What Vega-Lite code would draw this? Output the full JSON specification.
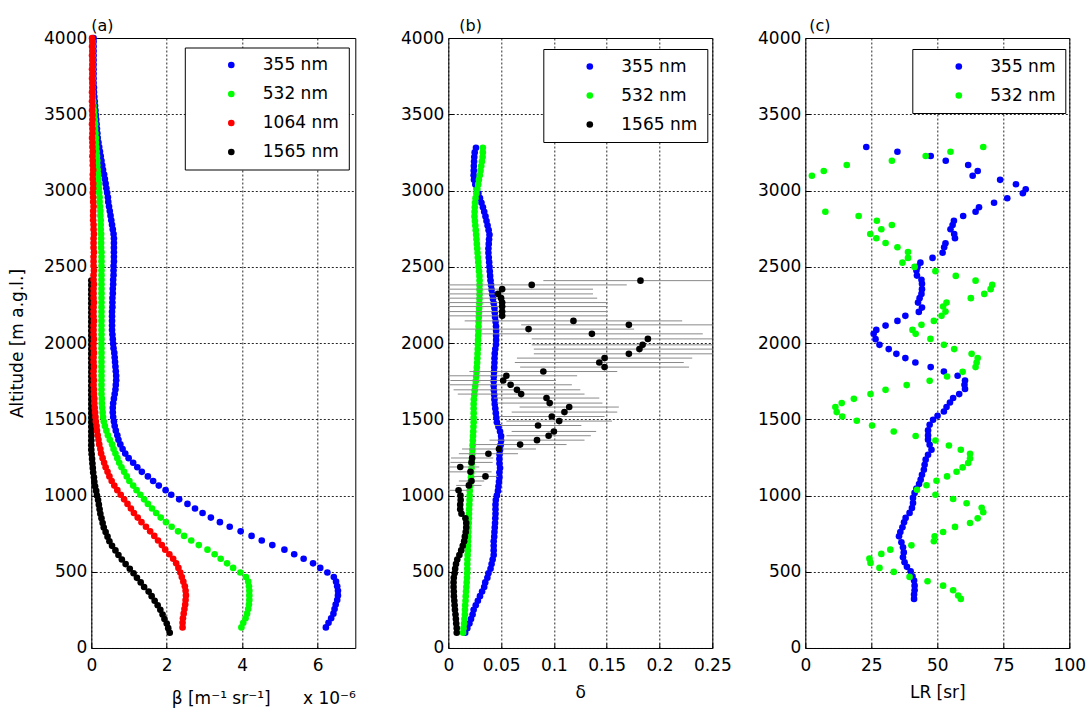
{
"$schema": "https://vega.github.io/schema/vega-lite/v6.json",
"background": "#ffffff",
"padding": {"left": 7.3, "top": 17, "right": 5, "bottom": 5},
"bounds": "flush",
"spacing": 93,
"resolve": {"scale": {"color": "independent", "x": "independent", "y": "independent"}, "legend": {"color": "independent"}, "axis": {"x": "independent", "y": "independent"}},
"config": {
 "font": "DejaVu Sans",
 "view": {"stroke": "#000000", "strokeWidth": 1},
 "axis": {"domain": false, "grid": true, "gridColor": "#000000", "gridDash": [2, 2], "gridOpacity": 0.85, "gridWidth": 1, "ticks": true, "tickSize": -5, "tickColor": "#000000", "labelFont": "DejaVu Sans", "labelFontSize": 17, "labelColor": "#000000", "labelFlush": false, "labelOverlap": false, "titleFont": "DejaVu Sans", "titleFontSize": 17, "titleFontWeight": "normal", "titleColor": "#000000"},
 "axisX": {"labelPadding": 15, "titlePadding": 11},
 "axisY": {"labelPadding": 9.5, "titlePadding": 17},
 "title": {"font": "DejaVu Sans", "fontSize": 16, "fontWeight": "normal", "color": "#000000", "anchor": "start", "frame": "group", "offset": -4.5},
 "legend": {"strokeColor": "#000000", "fillColor": "#ffffff", "padding": 9, "symbolOffset": 29, "labelOffset": 23, "rowPadding": 11, "symbolSize": 44, "symbolType": "circle", "symbolStrokeWidth": 0, "labelFont": "DejaVu Sans", "labelFontSize": 17, "labelColor": "#000000"},
 "point": {"filled": true, "size": 44, "opacity": 1}
},
"datasets": {
"a355": [{"h":135,"v":6.22},{"h":165,"v":6.29},{"h":195,"v":6.36},{"h":225,"v":6.42},{"h":255,"v":6.45},{"h":285,"v":6.48},{"h":315,"v":6.52},{"h":345,"v":6.54},{"h":375,"v":6.54},{"h":405,"v":6.52},{"h":435,"v":6.49},{"h":465,"v":6.43},{"h":495,"v":6.26},{"h":525,"v":6.07},{"h":555,"v":5.88},{"h":585,"v":5.63},{"h":615,"v":5.38},{"h":645,"v":5.12},{"h":675,"v":4.8},{"h":705,"v":4.52},{"h":735,"v":4.25},{"h":765,"v":3.96},{"h":795,"v":3.67},{"h":825,"v":3.41},{"h":855,"v":3.17},{"h":885,"v":2.95},{"h":915,"v":2.75},{"h":945,"v":2.55},{"h":975,"v":2.33},{"h":1005,"v":2.12},{"h":1035,"v":1.97},{"h":1065,"v":1.79},{"h":1095,"v":1.64},{"h":1125,"v":1.5},{"h":1155,"v":1.34},{"h":1185,"v":1.22},{"h":1215,"v":1.11},{"h":1245,"v":0.99},{"h":1275,"v":0.9},{"h":1305,"v":0.83},{"h":1335,"v":0.77},{"h":1365,"v":0.72},{"h":1395,"v":0.69},{"h":1425,"v":0.65},{"h":1455,"v":0.62},{"h":1485,"v":0.6},{"h":1515,"v":0.58},{"h":1545,"v":0.57},{"h":1575,"v":0.57},{"h":1605,"v":0.58},{"h":1635,"v":0.6},{"h":1665,"v":0.62},{"h":1695,"v":0.64},{"h":1725,"v":0.65},{"h":1755,"v":0.66},{"h":1785,"v":0.66},{"h":1815,"v":0.65},{"h":1845,"v":0.64},{"h":1875,"v":0.63},{"h":1905,"v":0.62},{"h":1935,"v":0.61},{"h":1965,"v":0.59},{"h":1995,"v":0.58},{"h":2025,"v":0.57},{"h":2055,"v":0.56},{"h":2085,"v":0.55},{"h":2115,"v":0.55},{"h":2145,"v":0.55},{"h":2175,"v":0.55},{"h":2205,"v":0.55},{"h":2235,"v":0.56},{"h":2265,"v":0.56},{"h":2295,"v":0.56},{"h":2325,"v":0.57},{"h":2355,"v":0.57},{"h":2385,"v":0.58},{"h":2415,"v":0.58},{"h":2445,"v":0.59},{"h":2475,"v":0.59},{"h":2505,"v":0.59},{"h":2535,"v":0.6},{"h":2565,"v":0.6},{"h":2595,"v":0.6},{"h":2625,"v":0.6},{"h":2655,"v":0.6},{"h":2685,"v":0.6},{"h":2715,"v":0.59},{"h":2745,"v":0.57},{"h":2775,"v":0.55},{"h":2805,"v":0.53},{"h":2835,"v":0.51},{"h":2865,"v":0.49},{"h":2895,"v":0.47},{"h":2925,"v":0.45},{"h":2955,"v":0.44},{"h":2985,"v":0.42},{"h":3015,"v":0.4},{"h":3045,"v":0.38},{"h":3075,"v":0.36},{"h":3105,"v":0.34},{"h":3135,"v":0.31},{"h":3165,"v":0.29},{"h":3195,"v":0.27},{"h":3225,"v":0.25},{"h":3255,"v":0.23},{"h":3285,"v":0.21},{"h":3315,"v":0.19},{"h":3345,"v":0.17},{"h":3375,"v":0.16},{"h":3405,"v":0.15},{"h":3435,"v":0.14},{"h":3465,"v":0.13},{"h":3495,"v":0.12},{"h":3525,"v":0.11},{"h":3555,"v":0.1},{"h":3585,"v":0.09},{"h":3615,"v":0.08},{"h":3645,"v":0.07},{"h":3675,"v":0.07},{"h":3705,"v":0.06},{"h":3735,"v":0.06},{"h":3765,"v":0.06},{"h":3795,"v":0.06},{"h":3825,"v":0.06},{"h":3855,"v":0.06},{"h":3885,"v":0.06},{"h":3915,"v":0.06},{"h":3945,"v":0.06},{"h":3975,"v":0.06},{"h":3999,"v":0.06}],
"a532": [{"h":135,"v":3.98},{"h":165,"v":4.03},{"h":195,"v":4.09},{"h":225,"v":4.13},{"h":255,"v":4.16},{"h":285,"v":4.18},{"h":315,"v":4.19},{"h":345,"v":4.19},{"h":375,"v":4.19},{"h":405,"v":4.18},{"h":435,"v":4.16},{"h":465,"v":4.1},{"h":495,"v":3.95},{"h":525,"v":3.76},{"h":555,"v":3.6},{"h":585,"v":3.43},{"h":615,"v":3.27},{"h":645,"v":3.08},{"h":675,"v":2.85},{"h":705,"v":2.65},{"h":735,"v":2.46},{"h":765,"v":2.3},{"h":795,"v":2.13},{"h":825,"v":1.98},{"h":855,"v":1.84},{"h":885,"v":1.72},{"h":915,"v":1.61},{"h":945,"v":1.5},{"h":975,"v":1.4},{"h":1005,"v":1.3},{"h":1035,"v":1.2},{"h":1065,"v":1.11},{"h":1095,"v":1.01},{"h":1125,"v":0.94},{"h":1155,"v":0.87},{"h":1185,"v":0.8},{"h":1215,"v":0.74},{"h":1245,"v":0.69},{"h":1275,"v":0.64},{"h":1305,"v":0.59},{"h":1335,"v":0.55},{"h":1365,"v":0.49},{"h":1395,"v":0.44},{"h":1425,"v":0.4},{"h":1455,"v":0.36},{"h":1485,"v":0.33},{"h":1515,"v":0.31},{"h":1545,"v":0.3},{"h":1575,"v":0.29},{"h":1605,"v":0.28},{"h":1635,"v":0.28},{"h":1665,"v":0.27},{"h":1695,"v":0.27},{"h":1725,"v":0.27},{"h":1755,"v":0.27},{"h":1785,"v":0.27},{"h":1815,"v":0.27},{"h":1845,"v":0.27},{"h":1875,"v":0.27},{"h":1905,"v":0.27},{"h":1935,"v":0.27},{"h":1965,"v":0.27},{"h":1995,"v":0.27},{"h":2025,"v":0.27},{"h":2055,"v":0.27},{"h":2085,"v":0.27},{"h":2115,"v":0.27},{"h":2145,"v":0.27},{"h":2175,"v":0.27},{"h":2205,"v":0.27},{"h":2235,"v":0.27},{"h":2265,"v":0.27},{"h":2295,"v":0.27},{"h":2325,"v":0.27},{"h":2355,"v":0.27},{"h":2385,"v":0.27},{"h":2415,"v":0.27},{"h":2445,"v":0.27},{"h":2475,"v":0.27},{"h":2505,"v":0.27},{"h":2535,"v":0.27},{"h":2565,"v":0.27},{"h":2595,"v":0.27},{"h":2625,"v":0.26},{"h":2655,"v":0.26},{"h":2685,"v":0.26},{"h":2715,"v":0.26},{"h":2745,"v":0.25},{"h":2775,"v":0.25},{"h":2805,"v":0.25},{"h":2835,"v":0.24},{"h":2865,"v":0.24},{"h":2895,"v":0.23},{"h":2925,"v":0.22},{"h":2955,"v":0.22},{"h":2985,"v":0.21},{"h":3015,"v":0.2},{"h":3045,"v":0.2},{"h":3075,"v":0.19},{"h":3105,"v":0.18},{"h":3135,"v":0.17},{"h":3165,"v":0.16},{"h":3195,"v":0.16},{"h":3225,"v":0.15},{"h":3255,"v":0.14},{"h":3285,"v":0.13},{"h":3315,"v":0.12},{"h":3345,"v":0.12},{"h":3375,"v":0.11},{"h":3405,"v":0.1},{"h":3435,"v":0.1},{"h":3465,"v":0.09},{"h":3495,"v":0.08},{"h":3525,"v":0.07},{"h":3555,"v":0.06},{"h":3585,"v":0.05},{"h":3615,"v":0.04},{"h":3645,"v":0.03},{"h":3675,"v":0.03},{"h":3705,"v":0.03},{"h":3735,"v":0.03},{"h":3765,"v":0.03},{"h":3795,"v":0.03},{"h":3825,"v":0.03},{"h":3855,"v":0.03},{"h":3885,"v":0.03},{"h":3915,"v":0.03},{"h":3945,"v":0.03},{"h":3975,"v":0.03}],
"a1064": [{"h":135,"v":2.42},{"h":165,"v":2.42},{"h":195,"v":2.43},{"h":225,"v":2.45},{"h":255,"v":2.47},{"h":285,"v":2.49},{"h":315,"v":2.5},{"h":345,"v":2.51},{"h":375,"v":2.5},{"h":405,"v":2.48},{"h":435,"v":2.44},{"h":465,"v":2.4},{"h":495,"v":2.36},{"h":525,"v":2.31},{"h":555,"v":2.25},{"h":585,"v":2.17},{"h":615,"v":2.07},{"h":645,"v":1.96},{"h":675,"v":1.87},{"h":705,"v":1.77},{"h":735,"v":1.67},{"h":765,"v":1.56},{"h":795,"v":1.45},{"h":825,"v":1.33},{"h":855,"v":1.23},{"h":885,"v":1.13},{"h":915,"v":1.05},{"h":945,"v":0.96},{"h":975,"v":0.87},{"h":1005,"v":0.78},{"h":1035,"v":0.69},{"h":1065,"v":0.61},{"h":1095,"v":0.54},{"h":1125,"v":0.48},{"h":1155,"v":0.43},{"h":1185,"v":0.38},{"h":1215,"v":0.34},{"h":1245,"v":0.3},{"h":1275,"v":0.26},{"h":1305,"v":0.24},{"h":1335,"v":0.21},{"h":1365,"v":0.19},{"h":1395,"v":0.17},{"h":1425,"v":0.15},{"h":1455,"v":0.14},{"h":1485,"v":0.12},{"h":1515,"v":0.11},{"h":1545,"v":0.1},{"h":1575,"v":0.09},{"h":1605,"v":0.08},{"h":1635,"v":0.08},{"h":1665,"v":0.07},{"h":1695,"v":0.07},{"h":1725,"v":0.06},{"h":1755,"v":0.07},{"h":1785,"v":0.06},{"h":1815,"v":0.06},{"h":1845,"v":0.07},{"h":1875,"v":0.06},{"h":1905,"v":0.06},{"h":1935,"v":0.07},{"h":1965,"v":0.06},{"h":1995,"v":0.06},{"h":2025,"v":0.07},{"h":2055,"v":0.06},{"h":2085,"v":0.06},{"h":2115,"v":0.06},{"h":2145,"v":0.07},{"h":2175,"v":0.06},{"h":2205,"v":0.06},{"h":2235,"v":0.06},{"h":2265,"v":0.07},{"h":2295,"v":0.06},{"h":2325,"v":0.06},{"h":2355,"v":0.06},{"h":2385,"v":0.07},{"h":2415,"v":0.06},{"h":2445,"v":0.06},{"h":2475,"v":0.07},{"h":2505,"v":0.06},{"h":2535,"v":0.06},{"h":2565,"v":0.06},{"h":2595,"v":0.07},{"h":2625,"v":0.06},{"h":2655,"v":0.06},{"h":2685,"v":0.06},{"h":2715,"v":0.07},{"h":2745,"v":0.06},{"h":2775,"v":0.06},{"h":2805,"v":0.05},{"h":2835,"v":0.05},{"h":2865,"v":0.05},{"h":2895,"v":0.06},{"h":2925,"v":0.05},{"h":2955,"v":0.05},{"h":2985,"v":0.04},{"h":3015,"v":0.05},{"h":3045,"v":0.05},{"h":3075,"v":0.04},{"h":3105,"v":0.04},{"h":3135,"v":0.05},{"h":3165,"v":0.04},{"h":3195,"v":0.04},{"h":3225,"v":0.03},{"h":3255,"v":0.04},{"h":3285,"v":0.03},{"h":3315,"v":0.03},{"h":3345,"v":0.02},{"h":3375,"v":0.03},{"h":3405,"v":0.03},{"h":3435,"v":0.02},{"h":3465,"v":0.03},{"h":3495,"v":0.03},{"h":3525,"v":0.02},{"h":3555,"v":0.03},{"h":3585,"v":0.02},{"h":3615,"v":0.03},{"h":3645,"v":0.02},{"h":3675,"v":0.03},{"h":3705,"v":0.03},{"h":3735,"v":0.02},{"h":3765,"v":0.03},{"h":3795,"v":0.02},{"h":3825,"v":0.03},{"h":3855,"v":0.03},{"h":3885,"v":0.02},{"h":3915,"v":0.03},{"h":3945,"v":0.02},{"h":3975,"v":0.03},{"h":3999,"v":0.02}],
"a1565": [{"h":100,"v":2.08},{"h":130,"v":2.04},{"h":160,"v":2.0},{"h":190,"v":1.94},{"h":220,"v":1.89},{"h":250,"v":1.83},{"h":280,"v":1.76},{"h":310,"v":1.68},{"h":340,"v":1.6},{"h":370,"v":1.52},{"h":400,"v":1.4},{"h":430,"v":1.31},{"h":460,"v":1.21},{"h":490,"v":1.12},{"h":520,"v":1.02},{"h":550,"v":0.91},{"h":580,"v":0.81},{"h":610,"v":0.72},{"h":640,"v":0.64},{"h":670,"v":0.55},{"h":700,"v":0.48},{"h":730,"v":0.43},{"h":760,"v":0.38},{"h":790,"v":0.33},{"h":820,"v":0.3},{"h":850,"v":0.27},{"h":880,"v":0.24},{"h":910,"v":0.22},{"h":940,"v":0.2},{"h":970,"v":0.18},{"h":1000,"v":0.15},{"h":1030,"v":0.13},{"h":1060,"v":0.1},{"h":1090,"v":0.08},{"h":1120,"v":0.07},{"h":1150,"v":0.05},{"h":1180,"v":0.04},{"h":1210,"v":0.03},{"h":1240,"v":0.02},{"h":1270,"v":0.01},{"h":1300,"v":0.0},{"h":1330,"v":0.0},{"h":1360,"v":0.0},{"h":1390,"v":0.0},{"h":1420,"v":0.0},{"h":1450,"v":0.0},{"h":1480,"v":0.0},{"h":1510,"v":0.0},{"h":1540,"v":0.0},{"h":1570,"v":0.0},{"h":1600,"v":0.0},{"h":1630,"v":0.0},{"h":1660,"v":0.0},{"h":1690,"v":0.0},{"h":1720,"v":0.0},{"h":1750,"v":0.0},{"h":1780,"v":0.0},{"h":1810,"v":0.0},{"h":1840,"v":0.0},{"h":1870,"v":0.0},{"h":1900,"v":0.0},{"h":1930,"v":0.0},{"h":1960,"v":0.0},{"h":1990,"v":0.0},{"h":2020,"v":0.0},{"h":2050,"v":0.0},{"h":2080,"v":0.0},{"h":2110,"v":0.0},{"h":2140,"v":0.0},{"h":2170,"v":0.0},{"h":2200,"v":0.0},{"h":2230,"v":0.0},{"h":2260,"v":0.0},{"h":2290,"v":0.0},{"h":2320,"v":0.0},{"h":2350,"v":0.0},{"h":2380,"v":0.0},{"h":2410,"v":0.0}],
"b355": [{"h":100,"v":0.016},{"h":130,"v":0.018},{"h":160,"v":0.02},{"h":190,"v":0.0215},{"h":220,"v":0.023},{"h":250,"v":0.024},{"h":280,"v":0.026},{"h":310,"v":0.028},{"h":340,"v":0.03},{"h":370,"v":0.032},{"h":400,"v":0.034},{"h":430,"v":0.035},{"h":460,"v":0.037},{"h":490,"v":0.038},{"h":520,"v":0.04},{"h":550,"v":0.041},{"h":580,"v":0.042},{"h":610,"v":0.043},{"h":640,"v":0.043},{"h":670,"v":0.043},{"h":700,"v":0.043},{"h":730,"v":0.0435},{"h":760,"v":0.0437},{"h":790,"v":0.044},{"h":820,"v":0.0443},{"h":850,"v":0.0445},{"h":880,"v":0.0447},{"h":910,"v":0.0447},{"h":940,"v":0.0447},{"h":970,"v":0.045},{"h":1000,"v":0.046},{"h":1030,"v":0.047},{"h":1060,"v":0.0475},{"h":1090,"v":0.048},{"h":1120,"v":0.0484},{"h":1150,"v":0.0484},{"h":1180,"v":0.049},{"h":1210,"v":0.0485},{"h":1240,"v":0.0484},{"h":1270,"v":0.0485},{"h":1300,"v":0.049},{"h":1330,"v":0.0495},{"h":1360,"v":0.05},{"h":1390,"v":0.05},{"h":1420,"v":0.049},{"h":1450,"v":0.0475},{"h":1480,"v":0.046},{"h":1510,"v":0.0455},{"h":1540,"v":0.045},{"h":1570,"v":0.0445},{"h":1600,"v":0.044},{"h":1630,"v":0.0437},{"h":1660,"v":0.0435},{"h":1690,"v":0.0432},{"h":1720,"v":0.043},{"h":1750,"v":0.043},{"h":1780,"v":0.0431},{"h":1810,"v":0.0433},{"h":1840,"v":0.0435},{"h":1870,"v":0.0437},{"h":1900,"v":0.0438},{"h":1930,"v":0.044},{"h":1960,"v":0.0445},{"h":1990,"v":0.0452},{"h":2020,"v":0.0453},{"h":2050,"v":0.0453},{"h":2080,"v":0.0453},{"h":2110,"v":0.0452},{"h":2140,"v":0.0448},{"h":2170,"v":0.0443},{"h":2200,"v":0.044},{"h":2230,"v":0.0437},{"h":2260,"v":0.043},{"h":2290,"v":0.0423},{"h":2320,"v":0.0416},{"h":2350,"v":0.041},{"h":2380,"v":0.0405},{"h":2410,"v":0.04},{"h":2440,"v":0.0396},{"h":2470,"v":0.0393},{"h":2500,"v":0.039},{"h":2530,"v":0.0387},{"h":2560,"v":0.0383},{"h":2590,"v":0.038},{"h":2620,"v":0.038},{"h":2650,"v":0.0383},{"h":2680,"v":0.0386},{"h":2710,"v":0.039},{"h":2740,"v":0.0382},{"h":2770,"v":0.0372},{"h":2800,"v":0.0362},{"h":2830,"v":0.0352},{"h":2860,"v":0.034},{"h":2890,"v":0.0328},{"h":2920,"v":0.0314},{"h":2950,"v":0.03},{"h":2980,"v":0.0285},{"h":3010,"v":0.027},{"h":3040,"v":0.0256},{"h":3070,"v":0.0243},{"h":3100,"v":0.024},{"h":3130,"v":0.0241},{"h":3160,"v":0.0242},{"h":3190,"v":0.0244},{"h":3220,"v":0.0246},{"h":3250,"v":0.025},{"h":3280,"v":0.0262}],
"b532": [{"h":100,"v":0.014},{"h":130,"v":0.0145},{"h":160,"v":0.015},{"h":190,"v":0.0153},{"h":220,"v":0.0157},{"h":250,"v":0.0158},{"h":280,"v":0.016},{"h":310,"v":0.0163},{"h":340,"v":0.0165},{"h":370,"v":0.0168},{"h":400,"v":0.0171},{"h":430,"v":0.0174},{"h":460,"v":0.0177},{"h":490,"v":0.0179},{"h":520,"v":0.018},{"h":550,"v":0.018},{"h":580,"v":0.0181},{"h":610,"v":0.0183},{"h":640,"v":0.0185},{"h":670,"v":0.0186},{"h":700,"v":0.0187},{"h":730,"v":0.0188},{"h":760,"v":0.0189},{"h":790,"v":0.019},{"h":820,"v":0.0193},{"h":850,"v":0.0195},{"h":880,"v":0.0196},{"h":910,"v":0.0197},{"h":940,"v":0.0199},{"h":970,"v":0.0201},{"h":1000,"v":0.0202},{"h":1030,"v":0.0203},{"h":1060,"v":0.0205},{"h":1090,"v":0.021},{"h":1120,"v":0.0215},{"h":1150,"v":0.0218},{"h":1180,"v":0.022},{"h":1210,"v":0.0222},{"h":1240,"v":0.0224},{"h":1270,"v":0.0226},{"h":1300,"v":0.0228},{"h":1330,"v":0.023},{"h":1360,"v":0.0232},{"h":1390,"v":0.0234},{"h":1420,"v":0.0236},{"h":1450,"v":0.0238},{"h":1480,"v":0.024},{"h":1510,"v":0.024},{"h":1540,"v":0.024},{"h":1570,"v":0.024},{"h":1600,"v":0.024},{"h":1630,"v":0.0242},{"h":1660,"v":0.0246},{"h":1690,"v":0.025},{"h":1720,"v":0.0255},{"h":1750,"v":0.026},{"h":1780,"v":0.0264},{"h":1810,"v":0.0267},{"h":1840,"v":0.027},{"h":1870,"v":0.0273},{"h":1900,"v":0.0275},{"h":1930,"v":0.0277},{"h":1960,"v":0.0279},{"h":1990,"v":0.028},{"h":2020,"v":0.0282},{"h":2050,"v":0.0283},{"h":2080,"v":0.0285},{"h":2110,"v":0.0286},{"h":2140,"v":0.0287},{"h":2170,"v":0.0289},{"h":2200,"v":0.029},{"h":2230,"v":0.0292},{"h":2260,"v":0.0294},{"h":2290,"v":0.0295},{"h":2320,"v":0.0296},{"h":2350,"v":0.0296},{"h":2380,"v":0.0296},{"h":2410,"v":0.0296},{"h":2440,"v":0.0295},{"h":2470,"v":0.0291},{"h":2500,"v":0.0287},{"h":2530,"v":0.0284},{"h":2560,"v":0.028},{"h":2590,"v":0.0277},{"h":2620,"v":0.0274},{"h":2650,"v":0.027},{"h":2680,"v":0.0267},{"h":2710,"v":0.0264},{"h":2740,"v":0.026},{"h":2770,"v":0.0256},{"h":2800,"v":0.0252},{"h":2830,"v":0.0248},{"h":2860,"v":0.0249},{"h":2890,"v":0.0251},{"h":2920,"v":0.0253},{"h":2950,"v":0.0258},{"h":2980,"v":0.0266},{"h":3010,"v":0.0275},{"h":3040,"v":0.0283},{"h":3070,"v":0.029},{"h":3100,"v":0.0298},{"h":3130,"v":0.0305},{"h":3160,"v":0.0312},{"h":3190,"v":0.0318},{"h":3220,"v":0.0325},{"h":3250,"v":0.0327},{"h":3280,"v":0.0327}],
"b1565": [{"h":100,"v":0.008},{"h":130,"v":0.008},{"h":160,"v":0.0075},{"h":190,"v":0.0072},{"h":220,"v":0.0068},{"h":250,"v":0.0063},{"h":280,"v":0.006},{"h":310,"v":0.0057},{"h":340,"v":0.0053},{"h":370,"v":0.0052},{"h":400,"v":0.005},{"h":430,"v":0.005},{"h":460,"v":0.0052},{"h":490,"v":0.006},{"h":520,"v":0.0065},{"h":550,"v":0.0073},{"h":580,"v":0.0085},{"h":610,"v":0.0105},{"h":640,"v":0.0122},{"h":670,"v":0.0137},{"h":700,"v":0.015},{"h":730,"v":0.0157},{"h":760,"v":0.0165},{"h":790,"v":0.017},{"h":820,"v":0.017},{"h":850,"v":0.0162},{"h":880,"v":0.0125},{"h":910,"v":0.0113},{"h":940,"v":0.0113},{"h":970,"v":0.0117},{"h":1000,"v":0.0115},{"h":1034,"v":0.0097,"lo":-0.0003,"hi":0.0197},{"h":1066,"v":0.0195,"lo":0.0075,"hi":0.0315},{"h":1095,"v":0.022,"lo":0.01,"hi":0.034},{"h":1125,"v":0.0352,"lo":0.0232,"hi":0.0472},{"h":1155,"v":0.021,"lo":0.001,"hi":0.041},{"h":1187,"v":0.0113,"lo":-0.0067,"hi":0.0293},{"h":1217,"v":0.022,"lo":0.002,"hi":0.042},{"h":1246,"v":0.0226,"lo":0.0026,"hi":0.0426},{"h":1274,"v":0.038,"lo":0.01,"hi":0.066},{"h":1305,"v":0.048,"lo":0.013,"hi":0.083},{"h":1334,"v":0.068,"lo":0.024,"hi":0.112},{"h":1363,"v":0.084,"lo":0.039,"hi":0.129},{"h":1392,"v":0.095,"lo":0.055,"hi":0.135},{"h":1420,"v":0.1,"lo":0.06,"hi":0.14},{"h":1459,"v":0.085,"lo":0.044,"hi":0.126},{"h":1488,"v":0.105,"lo":0.055,"hi":0.155},{"h":1518,"v":0.098,"lo":0.048,"hi":0.148},{"h":1547,"v":0.11,"lo":0.06,"hi":0.16},{"h":1580,"v":0.1145,"lo":0.0675,"hi":0.1615},{"h":1606,"v":0.096,"lo":0.046,"hi":0.146},{"h":1639,"v":0.093,"lo":0.043,"hi":0.143},{"h":1665,"v":0.069,"lo":0.009,"hi":0.129},{"h":1693,"v":0.065,"lo":0.005,"hi":0.125},{"h":1726,"v":0.059,"lo":0.001,"hi":0.117},{"h":1754,"v":0.052,"lo":0.002,"hi":0.102},{"h":1785,"v":0.055,"lo":-0.012,"hi":0.122},{"h":1813,"v":0.09,"lo":0.02,"hi":0.16},{"h":1842,"v":0.148,"lo":0.068,"hi":0.228},{"h":1872,"v":0.143,"lo":0.063,"hi":0.223},{"h":1901,"v":0.148,"lo":0.065,"hi":0.231},{"h":1929,"v":0.171,"lo":0.081,"hi":0.261},{"h":1960,"v":0.181,"lo":0.081,"hi":0.281},{"h":1988,"v":0.184,"lo":0.079,"hi":0.289},{"h":2027,"v":0.189,"lo":0.079,"hi":0.299},{"h":2060,"v":0.136,"lo":0.031,"hi":0.241},{"h":2091,"v":0.076,"lo":-0.024,"hi":0.176},{"h":2119,"v":0.171,"lo":0.069,"hi":0.273},{"h":2145,"v":0.1185,"lo":0.0155,"hi":0.2215},{"h":2178,"v":0.051,"lo":-0.049,"hi":0.151},{"h":2206,"v":0.051,"lo":-0.049,"hi":0.151},{"h":2239,"v":0.051,"lo":-0.049,"hi":0.151},{"h":2265,"v":0.051,"lo":-0.049,"hi":0.151},{"h":2294,"v":0.05,"lo":-0.041,"hi":0.141},{"h":2322,"v":0.047,"lo":-0.043,"hi":0.137},{"h":2353,"v":0.051,"lo":-0.035,"hi":0.137},{"h":2381,"v":0.079,"lo":-0.011,"hi":0.169},{"h":2409,"v":0.182,"lo":0.09,"hi":0.274}],
"c355": [{"h":322,"v":41.2},{"h":350,"v":41.2},{"h":379,"v":41.4},{"h":409,"v":41.4},{"h":442,"v":41.2},{"h":470,"v":40.6},{"h":503,"v":39.9},{"h":532,"v":38.5},{"h":562,"v":37.6},{"h":595,"v":37.0},{"h":627,"v":37.3},{"h":660,"v":37.0},{"h":693,"v":36.4},{"h":732,"v":35.5},{"h":761,"v":36.0},{"h":791,"v":36.8},{"h":824,"v":37.4},{"h":853,"v":38.0},{"h":886,"v":39.5},{"h":918,"v":40.4},{"h":951,"v":40.8},{"h":984,"v":40.8},{"h":1017,"v":41.4},{"h":1045,"v":42.1},{"h":1075,"v":43.1},{"h":1104,"v":43.7},{"h":1136,"v":44.2},{"h":1169,"v":44.9},{"h":1202,"v":45.2},{"h":1235,"v":45.6},{"h":1267,"v":46.5},{"h":1300,"v":47.8},{"h":1333,"v":47.1},{"h":1366,"v":46.5},{"h":1394,"v":46.5},{"h":1427,"v":46.5},{"h":1464,"v":47.1},{"h":1497,"v":48.4},{"h":1523,"v":50.1},{"h":1551,"v":52.5},{"h":1580,"v":53.5},{"h":1610,"v":54.8},{"h":1639,"v":56.0},{"h":1665,"v":58.3},{"h":1698,"v":60.5},{"h":1726,"v":60.3},{"h":1754,"v":60.5},{"h":1785,"v":57.7},{"h":1813,"v":52.5},{"h":1842,"v":47.5},{"h":1872,"v":41.7},{"h":1901,"v":37.9},{"h":1929,"v":34.5},{"h":1960,"v":31.6},{"h":1988,"v":28.1},{"h":2025,"v":26.6},{"h":2060,"v":25.9},{"h":2086,"v":26.9},{"h":2114,"v":30.4},{"h":2145,"v":34.9},{"h":2178,"v":37.9},{"h":2204,"v":43.0},{"h":2232,"v":44.2},{"h":2265,"v":42.7},{"h":2294,"v":43.3},{"h":2322,"v":44.0},{"h":2353,"v":44.2},{"h":2388,"v":44.2},{"h":2414,"v":44.0},{"h":2442,"v":42.3},{"h":2475,"v":42.1},{"h":2499,"v":42.5},{"h":2527,"v":43.6},{"h":2558,"v":48.2},{"h":2592,"v":52.0},{"h":2628,"v":52.6},{"h":2654,"v":53.1},{"h":2687,"v":56.7},{"h":2715,"v":56.4},{"h":2746,"v":55.0},{"h":2774,"v":55.8},{"h":2802,"v":56.3},{"h":2833,"v":59.8},{"h":2861,"v":64.5},{"h":2890,"v":65.8},{"h":2920,"v":71.5},{"h":2949,"v":76.5},{"h":2982,"v":82.4},{"h":3008,"v":83.5},{"h":3041,"v":79.8},{"h":3070,"v":73.8},{"h":3097,"v":63.4},{"h":3128,"v":65.3},{"h":3167,"v":61.7},{"h":3195,"v":53.2},{"h":3226,"v":47.5},{"h":3254,"v":34.9},{"h":3285,"v":23.1}],
"c532": [{"h":322,"v":58.9},{"h":344,"v":57.9},{"h":379,"v":56.0},{"h":409,"v":52.2},{"h":438,"v":46.3},{"h":466,"v":39.5},{"h":499,"v":33.5},{"h":525,"v":28.1},{"h":558,"v":24.7},{"h":586,"v":24.3},{"h":617,"v":28.8},{"h":645,"v":32.2},{"h":673,"v":40.2},{"h":700,"v":48.7},{"h":732,"v":49.0},{"h":761,"v":52.2},{"h":794,"v":56.7},{"h":820,"v":62.4},{"h":850,"v":65.3},{"h":890,"v":67.4},{"h":920,"v":66.8},{"h":949,"v":61.1},{"h":977,"v":56.0},{"h":1005,"v":49.3},{"h":1038,"v":42.3},{"h":1067,"v":45.9},{"h":1097,"v":49.7},{"h":1125,"v":53.7},{"h":1156,"v":57.3},{"h":1184,"v":59.6},{"h":1213,"v":61.7},{"h":1243,"v":62.4},{"h":1274,"v":62.4},{"h":1300,"v":58.9},{"h":1328,"v":54.4},{"h":1361,"v":49.3},{"h":1390,"v":41.8},{"h":1420,"v":33.5},{"h":1459,"v":25.3},{"h":1490,"v":19.5},{"h":1518,"v":14.0},{"h":1547,"v":11.9},{"h":1580,"v":11.4},{"h":1606,"v":13.8},{"h":1634,"v":18.4},{"h":1665,"v":24.7},{"h":1693,"v":30.4},{"h":1724,"v":38.4},{"h":1752,"v":47.1},{"h":1780,"v":53.7},{"h":1811,"v":59.6},{"h":1842,"v":64.5},{"h":1872,"v":64.9},{"h":1901,"v":65.3},{"h":1929,"v":63.0},{"h":1960,"v":56.4},{"h":1988,"v":52.5},{"h":2027,"v":47.4},{"h":2060,"v":41.8},{"h":2086,"v":40.6},{"h":2119,"v":44.0},{"h":2145,"v":48.7},{"h":2178,"v":51.6},{"h":2206,"v":53.1},{"h":2239,"v":52.2},{"h":2265,"v":53.5},{"h":2294,"v":62.7},{"h":2322,"v":67.8},{"h":2353,"v":70.2},{"h":2381,"v":70.8},{"h":2409,"v":64.5},{"h":2440,"v":57.0},{"h":2471,"v":49.3},{"h":2499,"v":41.4},{"h":2527,"v":36.8},{"h":2558,"v":38.9},{"h":2597,"v":38.9},{"h":2628,"v":34.9},{"h":2656,"v":30.4},{"h":2687,"v":26.9},{"h":2715,"v":24.6},{"h":2746,"v":28.8},{"h":2774,"v":32.8},{"h":2802,"v":27.1},{"h":2833,"v":20.2},{"h":2861,"v":7.6},{"h":3097,"v":2.5},{"h":3128,"v":7.0},{"h":3167,"v":15.7},{"h":3195,"v":32.8},{"h":3226,"v":45.6},{"h":3254,"v":55.0},{"h":3285,"v":67.4}]
},
"hconcat": [
{
 "width": 264, "height": 610,
 "title": {"text": "(a)", "dx": 0},
 "layer": [
  {"data": {"name": "a355"}, "mark": {"type": "point"},
   "encoding": {
    "x": {"field": "v", "type": "quantitative", "scale": {"domain": [0, 7], "nice": false, "zero": false}, "axis": {"values": [0, 1, 2, 3, 4, 5, 6, 7], "title": "β [m⁻¹ sr⁻¹]\u00a0\u00a0\u00a0\u00a0\u00a0\u00a0x 10⁻⁶", "titleAnchor": "end", "titlePadding": 17}},
    "y": {"field": "h", "type": "quantitative", "scale": {"domain": [0, 4000], "nice": false}, "axis": {"values": [0, 500, 1000, 1500, 2000, 2500, 3000, 3500, 4000], "format": "d", "title": "Altitude [m a.g.l.]"}},
    "color": {"datum": "355 nm", "type": "nominal", "scale": {"domain": ["355 nm", "532 nm", "1064 nm", "1565 nm"], "range": ["#0000ff", "#00ff00", "#ff0000", "#000000"]}, "legend": {"orient": "none", "legendX": 93.5, "legendY": 9.5, "title": null}}
   }},
  {"data": {"name": "a532"}, "mark": {"type": "point"},
   "encoding": {"x": {"field": "v", "type": "quantitative"}, "y": {"field": "h", "type": "quantitative"}, "color": {"datum": "532 nm", "type": "nominal"}}},
  {"data": {"name": "a1565"}, "mark": {"type": "point"},
   "encoding": {"x": {"field": "v", "type": "quantitative"}, "y": {"field": "h", "type": "quantitative"}, "color": {"datum": "1565 nm", "type": "nominal"}}},
  {"data": {"name": "a1064"}, "mark": {"type": "point"},
   "encoding": {"x": {"field": "v", "type": "quantitative"}, "y": {"field": "h", "type": "quantitative"}, "color": {"datum": "1064 nm", "type": "nominal"}}}
 ]
},
{
 "width": 264, "height": 610,
 "title": {"text": "(b)", "dx": 11},
 "layer": [
  {"data": {"name": "b355"}, "mark": {"type": "point"},
   "encoding": {
    "x": {"field": "v", "type": "quantitative", "scale": {"domain": [0, 0.25], "nice": false, "zero": false}, "axis": {"values": [0, 0.05, 0.1, 0.15, 0.2, 0.25], "format": "~g", "title": "δ"}},
    "y": {"field": "h", "type": "quantitative", "scale": {"domain": [0, 4000], "nice": false}, "axis": {"values": [0, 500, 1000, 1500, 2000, 2500, 3000, 3500, 4000], "format": "d", "title": null}},
    "color": {"datum": "355 nm", "type": "nominal", "scale": {"domain": ["355 nm", "532 nm", "1565 nm"], "range": ["#0000ff", "#00ff00", "#000000"]}, "legend": {"orient": "none", "legendX": 95, "legendY": 11, "title": null}}
   }},
  {"data": {"name": "b532"}, "mark": {"type": "point"},
   "encoding": {"x": {"field": "v", "type": "quantitative"}, "y": {"field": "h", "type": "quantitative"}, "color": {"datum": "532 nm", "type": "nominal"}}},
  {"data": {"name": "b1565"}, "transform": [{"filter": "isValid(datum.lo)"}], "mark": {"type": "rule", "color": "#8a8a8a", "strokeWidth": 1, "clip": true},
   "encoding": {"x": {"field": "lo", "type": "quantitative"}, "x2": {"field": "hi"}, "y": {"field": "h", "type": "quantitative"}}},
  {"data": {"name": "b1565"}, "mark": {"type": "point"},
   "encoding": {"x": {"field": "v", "type": "quantitative"}, "y": {"field": "h", "type": "quantitative"}, "color": {"datum": "1565 nm", "type": "nominal"}}}
 ]
},
{
 "width": 264, "height": 610,
 "title": {"text": "(c)", "dx": 4},
 "layer": [
  {"data": {"name": "c355"}, "mark": {"type": "point"},
   "encoding": {
    "x": {"field": "v", "type": "quantitative", "scale": {"domain": [0, 100], "nice": false, "zero": false}, "axis": {"values": [0, 25, 50, 75, 100], "title": "LR [sr]"}},
    "y": {"field": "h", "type": "quantitative", "scale": {"domain": [0, 4000], "nice": false}, "axis": {"values": [0, 500, 1000, 1500, 2000, 2500, 3000, 3500, 4000], "format": "d", "title": null}},
    "color": {"datum": "355 nm", "type": "nominal", "scale": {"domain": ["355 nm", "532 nm"], "range": ["#0000ff", "#00ff00"]}, "legend": {"orient": "none", "legendX": 107, "legendY": 11, "title": null}}
   }},
  {"data": {"name": "c532"}, "mark": {"type": "point"},
   "encoding": {"x": {"field": "v", "type": "quantitative"}, "y": {"field": "h", "type": "quantitative"}, "color": {"datum": "532 nm", "type": "nominal"}}}
 ]
}
]
}
